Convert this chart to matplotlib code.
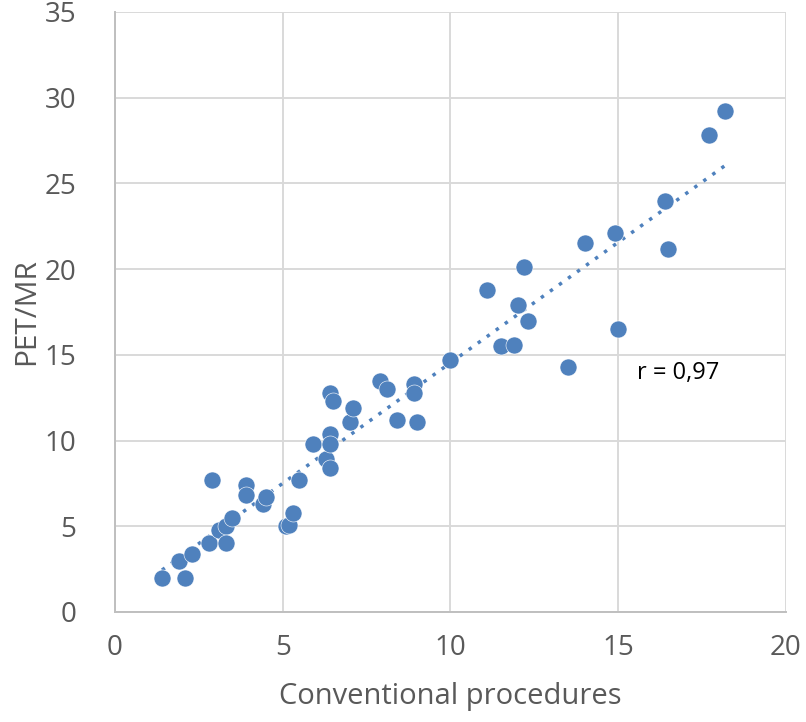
import numpy as np
import matplotlib
matplotlib.use('Agg')
import matplotlib.pyplot as plt

# values
conventional = [1.4, 1.9, 2.1, 2.3, 2.8, 2.9, 3.1, 3.3, 3.3, 3.5,
                3.9, 3.9, 4.4, 4.5, 5.1, 5.2, 5.3, 5.5, 5.9, 6.3,
                6.4, 6.4, 6.4, 6.4, 6.5, 7.0, 7.1, 7.9, 8.1, 8.4,
                8.9, 8.9, 9.0, 10.0, 11.1, 11.5, 11.9, 12.0, 12.2, 12.3,
                13.5, 14.0, 14.9, 15.0, 16.4, 16.5, 17.7, 18.2]
pet_mr = [2.0, 3.0, 2.0, 3.4, 4.0, 7.7, 4.8, 5.0, 4.0, 5.5,
          7.4, 6.8, 6.3, 6.7, 5.0, 5.1, 5.8, 7.7, 9.8, 8.9,
          8.4, 10.4, 9.8, 12.8, 12.3, 11.1, 11.9, 13.5, 13.0, 11.2,
          13.3, 12.8, 11.1, 14.7, 18.8, 15.5, 15.6, 17.9, 20.1, 17.0,
          14.3, 21.5, 22.1, 16.5, 24.0, 21.2, 27.8, 29.2]
x_ticks = [0, 5, 10, 15, 20]
y_ticks = [0, 5, 10, 15, 20, 25, 30, 35]
r_text = 'r = 0,97'

plt.rcParams['font.family'] = ['Open Sans', 'DejaVu Sans']

fig = plt.figure(figsize=(8.06, 7.22), dpi=100)
ax = fig.add_axes([0.1427, 0.1524, 0.975 - 0.1427, 0.9834 - 0.1524])

blue = '#4f81bd'
ax.scatter(conventional, pet_mr, s=150, color=blue, edgecolor='white',
           linewidth=0.4, zorder=3)

# linear trend line across the data range
slope, intercept = np.polyfit(conventional, pet_mr, 1)
xs = np.array([min(conventional), max(conventional)])
ax.plot(xs, slope * xs + intercept, color=blue, linestyle=(0, (1, 2.2)),
        linewidth=2.5, zorder=2)

ax.text(15.55, 13.95, r_text, fontsize=17, color='black', va='center')

ax.set_xlim(0, 20)
ax.set_ylim(0, 35)
ax.set_xticks(x_ticks)
ax.set_yticks(y_ticks)
ax.grid(True, color='#d9d9d9', linewidth=1.4, zorder=0)
ax.set_axisbelow(True)
for side in ['top', 'right']:
    ax.spines[side].set_visible(False)
for side in ['left', 'bottom']:
    ax.spines[side].set_color('#bfbfbf')
    ax.spines[side].set_linewidth(1.4)
ax.tick_params(length=0, labelsize=20, colors='#595959', pad=16)
ax.tick_params(axis='y', pad=28)

ax.set_xlabel('Conventional procedures', fontsize=21, color='#595959', labelpad=14)
ax.set_ylabel('PET/MR', fontsize=21.5, color='#595959', labelpad=2)

fig.savefig('out.png', dpi=100)
